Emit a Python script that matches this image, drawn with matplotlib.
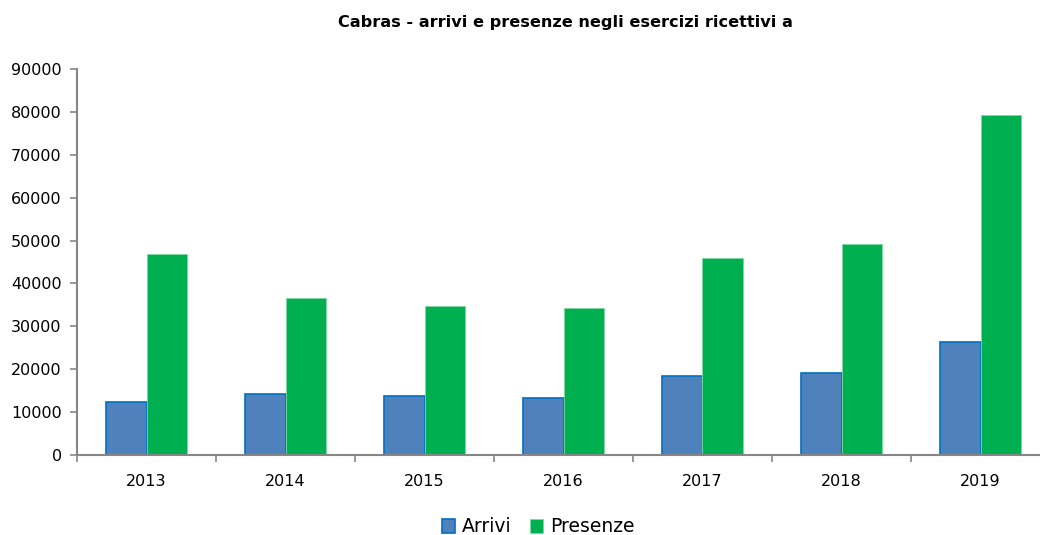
import matplotlib
matplotlib.use("Agg")
import matplotlib.pyplot as plt
import numpy as np

years = ["2013", "2014", "2015", "2016", "2017", "2018", "2019"]
arrivi = [12400, 14300, 13800, 13200, 18400, 19100, 26400]
presenze = [46800, 36500, 34700, 34200, 45900, 49300, 79300]

plt.rcParams["font.family"] = ["DejaVu Sans"]

W, H = 1040, 535
fig = plt.figure(figsize=(W / 100, H / 100), dpi=100)
# axes: left 77px, bottom at y=455, top at y=69, right beyond the image edge
ax = fig.add_axes([77 / W, (H - 455) / H, 973 / W, 386 / H])

x = np.arange(len(years))
bw = 0.29
axis_grey = "#868686"
ax.bar(x - bw / 2, arrivi, width=bw, color="#4F81BD", edgecolor="#0070C0",
       linewidth=1.2, label="Arrivi")
ax.bar(x + bw / 2, presenze, width=bw, color="#00B050", edgecolor="#7FD8A0",
       linewidth=0.6, label="Presenze")

ax.set_xlim(-0.5, len(years) - 0.5)
ax.set_ylim(0, 90000)
ax.set_yticks(np.arange(0, 90001, 10000))
ax.set_xticks(x)
ax.set_xticklabels(years)
ax.set_xticks(np.arange(-0.5, len(years), 1.0), minor=True)
ax.tick_params(axis="x", which="major", length=0, pad=14, labelsize=11.5)
ax.tick_params(axis="x", which="minor", length=5, color=axis_grey, width=1.2)
ax.tick_params(axis="y", length=5, color=axis_grey, width=1.2, labelsize=11.5, pad=6)

for side in ["top", "right"]:
    ax.spines[side].set_visible(False)
for side in ["left", "bottom"]:
    ax.spines[side].set_color(axis_grey)
    ax.spines[side].set_linewidth(1.5)

fig.text(565 / W, 1 - 22 / H, "Cabras - arrivi e presenze negli esercizi ricettivi a",
         ha="center", va="center", fontsize=11.6, fontweight="bold")

fig.legend(loc="center", bbox_to_anchor=(538 / W, 1 - 527 / H), ncol=2, frameon=False,
           fontsize=13.5, handlelength=0.7, handleheight=0.7, handletextpad=0.35,
           columnspacing=1.0)

fig.savefig("out.png", dpi=100)
